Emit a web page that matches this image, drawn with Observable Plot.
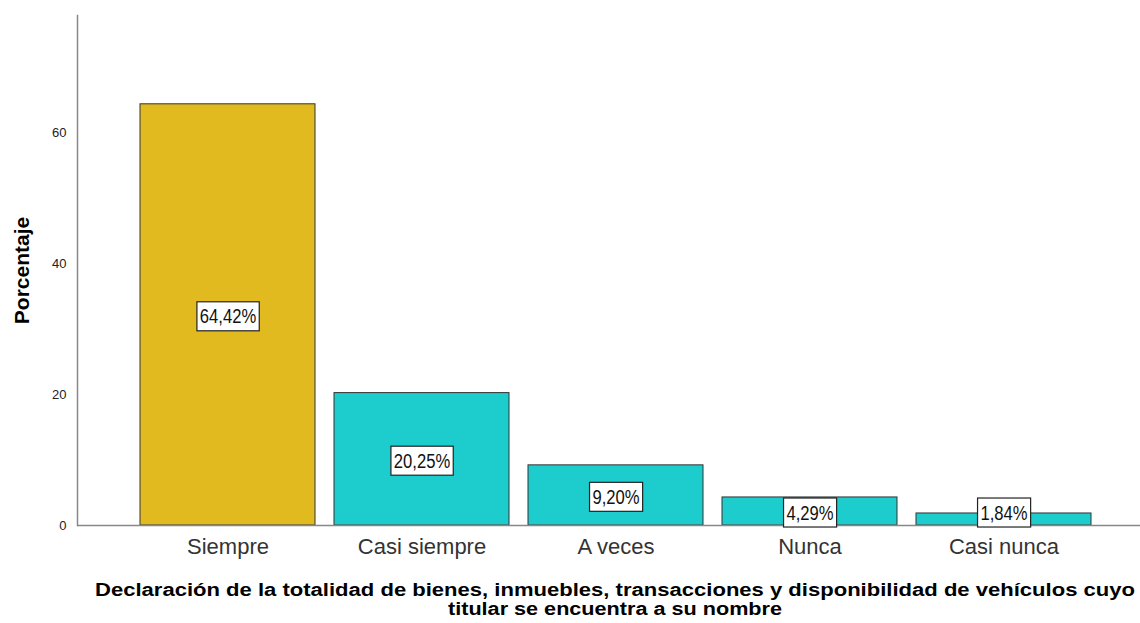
<!DOCTYPE html>
<html><head><meta charset="utf-8">
<script src="https://cdn.jsdelivr.net/npm/d3@7"></script>
<script src="https://cdn.jsdelivr.net/npm/@observablehq/plot@0.6"></script>
<style>
body{margin:0;background:#fff;}
#chart{width:1140px;height:623px;}
</style></head><body><div id="chart"></div>
<script>
const categories = ["Siempre","Casi siempre","A veces","Nunca","Casi nunca"];
const values = [64.42, 20.25, 9.20, 4.29, 1.84];
const valueLabels = ["64,42%","20,25%","9,20%","4,29%","1,84%"];
const barColors = ["#E0BA1E","#1DCDCD","#1DCDCD","#1DCDCD","#1DCDCD"];
const yTicks = [0, 20, 40, 60];
const yTitle = "Porcentaje";
const xTitleLines = ["Declaración de la totalidad de bienes, inmuebles, transacciones y disponibilidad de vehículos cuyo","titular se encuentra a su nombre"];

const data = categories.map((c,i)=>({cat:c, v:values[i], label:valueLabels[i], color:barColors[i]}));
const font = "'Liberation Sans', Arial, sans-serif";

const chart = Plot.plot({
  width:1140, height:623,
  marginLeft:77, marginRight:0, marginTop:15, marginBottom:98,
  style:{fontFamily:font, background:"#fff", color:"#222"},
  x:{domain:categories, paddingInner:0.098, paddingOuter:0.285, align:0.5625, label:null},
  y:{domain:[0,78], label:null},
  color:{type:"identity"},
  marks:[
    Plot.barY(data,{x:"cat", y:"v", fill:"color", stroke:"#333", strokeWidth:1}),
    Plot.ruleY([0],{stroke:"#888", strokeWidth:1.5}),
    Plot.frame({anchor:"left", stroke:"#888", strokeWidth:1.5}),
    Plot.axisY({ticks:yTicks, tickSize:0, tickPadding:11, fontSize:13, label:null}),
    Plot.axisX({tickSize:0, tickPadding:13, fontSize:22, label:null, fill:"#333"}),
    Plot.text(data,{x:"cat", y:d=>Math.max(d.v/2, 2.2), dy:2, text:"label", fontSize:20, fill:"#111", className:"vlab"}),
    Plot.text([yTitle],{frameAnchor:"left", textAnchor:"middle", dx:-55, rotate:-90, fontSize:21, fontWeight:"bold", fill:"#000"}),
    Plot.text([xTitleLines[0]],{frameAnchor:"bottom", textAnchor:"middle", dx:6, dy:70, fontSize:18, fontWeight:"bold", fill:"#000", className:"xt1"}),
    Plot.text([xTitleLines[1]],{frameAnchor:"bottom", textAnchor:"middle", dx:6, dy:89, fontSize:18, fontWeight:"bold", fill:"#000", className:"xt2"})
  ]
});
document.getElementById("chart").appendChild(chart);

const NS = "http://www.w3.org/2000/svg";
function fitText(sel, w){
  chart.querySelectorAll(sel).forEach(t=>{
    t.setAttribute("textLength", w);
    t.setAttribute("lengthAdjust","spacingAndGlyphs");
  });
}
fitText("g.xt1 text", 1040);
fitText("g.xt2 text", 334);

chart.querySelectorAll("g.vlab text").forEach(t=>{
  const nat = t.getComputedTextLength();
  t.setAttribute("textLength", nat*0.83);
  t.setAttribute("lengthAdjust","spacingAndGlyphs");
  const b = t.getBBox();
  const r = document.createElementNS(NS,"rect");
  const w = nat*0.83 + 6, h = 29;
  r.setAttribute("x", b.x + b.width/2 - w/2);
  r.setAttribute("y", b.y + b.height/2 - h/2);
  r.setAttribute("width", w);
  r.setAttribute("height", h);
  r.setAttribute("fill","#fff");
  r.setAttribute("stroke","#222");
  r.setAttribute("stroke-width",1.2);
  if (t.getAttribute("transform")) r.setAttribute("transform", t.getAttribute("transform"));
  t.parentNode.insertBefore(r, t);
});
</script></body></html>
